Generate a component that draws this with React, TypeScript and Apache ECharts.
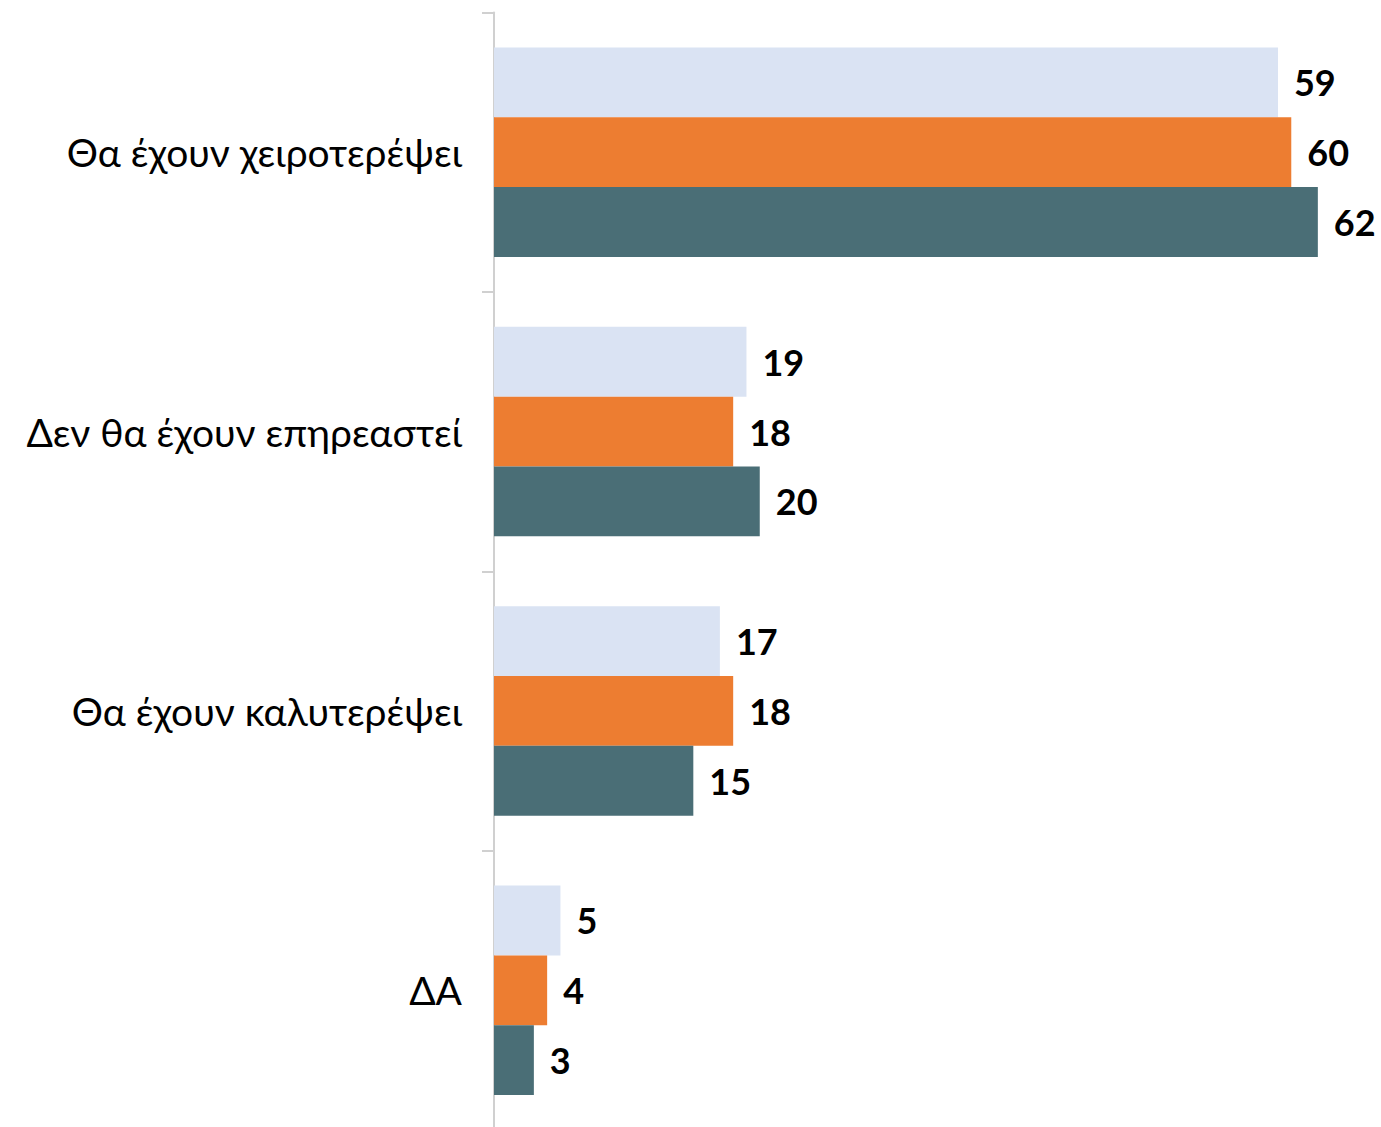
import React, { useEffect, useRef } from "react";
import * as echarts from "echarts";

const categories = [
  "Θα έχουν χειροτερέψει",
  "Δεν θα έχουν επηρεαστεί",
  "Θα έχουν καλυτερέψει",
  "ΔΑ",
];
const seriesA = [59, 19, 17, 5];
const seriesB = [60, 18, 18, 4];
const seriesC = [62, 20, 15, 3];
const colors = ["#DAE3F3", "#ED7D31", "#4A6E76"];

export default function App() {
  const ref = useRef<HTMLDivElement>(null);
  useEffect(() => {
    if (!ref.current) return;
    const chart = echarts.init(ref.current, null, { renderer: "svg" });
    const mk = (name: string, data: number[], color: string) => ({
      name,
      type: "bar",
      data,
      barGap: "0%",
      barCategoryGap: "25%",
      itemStyle: { color },
      label: {
        show: true,
        position: "right",
        distance: 16,
        color: "#000",
        fontWeight: "bold",
        fontSize: 36,
        fontFamily: "Lato, 'DejaVu Sans', sans-serif",
      },
    });
    chart.setOption({
      animation: false,
      backgroundColor: "#fff",
      grid: { left: 494, top: 12.5, bottom: 0, right: 10, containLabel: false },
      xAxis: {
        type: "value",
        min: 0,
        max: 66,
        show: false,
        splitLine: { show: false },
      },
      yAxis: {
        type: "category",
        data: categories,
        inverse: true,
        axisLine: { show: true, lineStyle: { color: "#D0D0D0", width: 2 } },
        axisTick: { show: true, length: 12, lineStyle: { color: "#D0D0D0", width: 2 } },
        axisLabel: {
          color: "#000",
          fontSize: 39,
          margin: 32,
          fontFamily: "Lato, 'Noto Sans', sans-serif",
        },
        splitLine: { show: false },
      },
      series: [
        mk("A", seriesA, colors[0]),
        mk("B", seriesB, colors[1]),
        mk("C", seriesC, colors[2]),
      ],
    });
    return () => chart.dispose();
  }, []);
  return (
    <div
      ref={ref}
      style={{ position: "fixed", left: 0, top: 0, width: 1381, height: 1130, background: "#fff" }}
    />
  );
}
